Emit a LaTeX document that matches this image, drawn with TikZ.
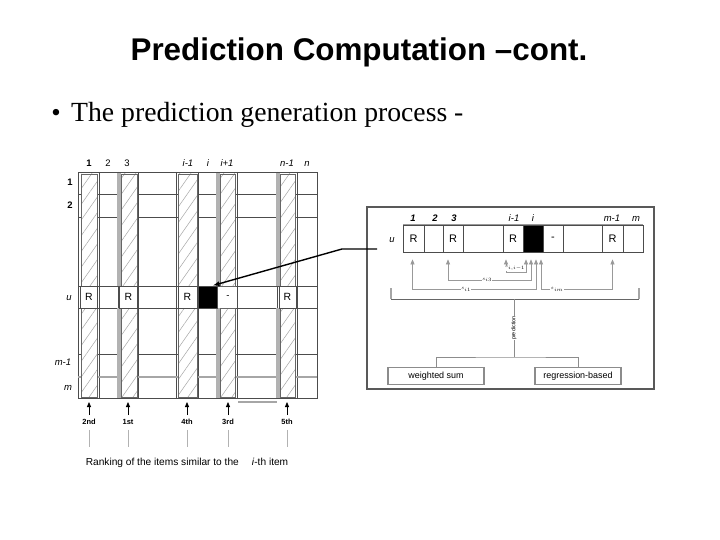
\documentclass[tikz,border=0pt]{standalone}
\usepackage{fontspec}
\setmainfont{Liberation Serif}
\setsansfont{Liberation Sans}
\usetikzlibrary{arrows.meta,positioning,calc,patterns.meta}

\tikzset{
  gridline/.style={draw=black!70,line width=0.9bp},
  hatchcol/.style={draw=black!60,line width=0.8bp,preaction={fill=white},
    pattern={Lines[angle=55,distance=9bp,line width=0.5bp]},pattern color=black!35},
  strip/.style={fill=black!30},
  lcell/.style={draw=black!70,line width=0.8bp,fill=white,minimum height=22bp,
    inner sep=0pt,font=\sffamily\fontsize{10.5}{12}\selectfont},
  rcell/.style={draw=black!70,line width=0.8bp,fill=white,minimum height=27bp,
    minimum width=20bp,inner sep=0pt,font=\sffamily\fontsize{11}{12}\selectfont},
  idx/.style={font=\sffamily\fontsize{9.5}{11}\selectfont,inner sep=1pt,
    text height=7bp,text depth=0pt},
  simlbl/.style={font=\sffamily\fontsize{5}{6}\selectfont,inner sep=0.5pt,fill=white},
  simline/.style={draw=black!40,line width=0.6bp},
  methodbox/.style={draw=black!45,line width=1.2bp,minimum height=17bp,inner sep=1pt,
    font=\sffamily\fontsize{9}{11}\selectfont},
  rank/.style={font=\sffamily\bfseries\fontsize{7.5}{8}\selectfont,inner sep=1pt}
}

\begin{document}
\begin{tikzpicture}[x=1bp,y=-1bp,>={Triangle[length=5bp,width=4bp]}]
  \useasboundingbox[fill=white] (0,0) rectangle (720,540);

  % title and bullet
  \node[font=\sffamily\bfseries\fontsize{31.5}{36}\selectfont] (title) at (359,52)
      {Prediction Computation --cont.};
  \node[font=\fontsize{27}{30}\selectfont] (bullet) at (56,115) {\textbullet};
  \node[font=\fontsize{27.8}{30}\selectfont,anchor=west,inner sep=0pt] (subtitle) at (71,115)
      {The prediction generation process -};

  % user-item matrix
  \draw[gridline] (78,172) rectangle (317,398);
  \foreach \x in {99,118,138,176,198,217,237,277,297}
    \draw[gridline] (\x,172) -- (\x,398);
  \foreach \y in {194,217,286,308,354}
    \draw[gridline] (78,\y) -- (317,\y);
  \draw[black!35,line width=1.4bp] (78,377) -- (317,377);
  \draw[black!35,line width=1.4bp] (238,402) -- (277,402);

  \foreach \a/\b in {81/97,121/137,178/197,220/235,280/295} {
    \draw[hatchcol] (\a,174) rectangle (\b,286);
    \draw[hatchcol] (\a,308) rectangle (\b,397);
  }
  \foreach \a in {117,216,276} {
    \fill[strip] (\a,173) rectangle (\a+4,286);
    \fill[strip] (\a,308) rectangle (\a+4,398);
  }

  \node[lcell,minimum width=17bp] (lr1) at (89,297) {R};
  \node[lcell,minimum width=18bp] (lr3) at (128.5,297) {R};
  \node[lcell,minimum width=19bp] (lri1) at (187.5,297) {R};
  \node[lcell,minimum width=17bp] (lrn1) at (287.5,297) {R};
  \node[lcell,minimum width=19bp,fill=black] (lblack) at (207.5,297) {};
  \node[idx] (ldash) at (228,295) {-};

  \node[idx,font=\sffamily\bfseries\fontsize{9.5}{11}\selectfont] (c1) at (89,163) {1};
  \node[idx] (c2) at (108,163) {2};
  \node[idx] (c3) at (127,163) {3};
  \node[idx] (ci1) at (188,163) {\itshape i-1};
  \node[idx] (ci) at (208,163) {\itshape i};
  \node[idx] (cip) at (227,163) {\itshape i+1};
  \node[idx] (cn1) at (287,163) {\itshape n-1};
  \node[idx] (cn) at (307,163) {\itshape n};

  \node[idx,font=\sffamily\bfseries\fontsize{9.5}{11}\selectfont] (u1) at (70,182) {1};
  \node[idx,font=\sffamily\bfseries\fontsize{9.5}{11}\selectfont] (u2) at (70,205) {2};
  \node[idx] (uu) at (69,297) {\itshape u};
  \node[idx] (um1) at (63,362) {\itshape m-1};
  \node[idx] (um) at (68,387) {\itshape m};

  % ranking of the similar items
  \node[rank] (rk2) at (89,422) {2nd};
  \node[rank] (rk1) at (128,422) {1st};
  \node[rank] (rk4) at (187,422) {4th};
  \node[rank] (rk3) at (228,422) {3rd};
  \node[rank] (rk5) at (287,422) {5th};
  \foreach \r/\x in {rk2/89,rk1/128,rk4/187,rk3/228,rk5/287} {
    \draw[->,line width=0.8bp] (\r.north) ++(0,-3) -- (\x,402);
    \draw[black!30,line width=0.6bp] (\r.south) ++(0,4) -- (\x,447);
  }
  \node[font=\sffamily\fontsize{10.2}{12}\selectfont,inner sep=1pt] (ranking) at (187,463)
      {Ranking of the items similar to the \quad\textit{i}-th item};

  % prediction for the active user
  \draw[black!65,line width=1.2bp] (367,207) rectangle (654,389);
  \draw[black!40,line width=1.4bp] (403,225) -- (643,225);
  \draw[black!70,line width=0.8bp] (403,225) rectangle (643,252);
  \node[rcell,minimum width=21bp] (r1) at (413.5,238.5) {R};
  \node[rcell] (r3) at (453,238.5) {R};
  \node[rcell] (ri1) at (513,238.5) {R};
  \node[rcell,fill=black] (ri) at (533,238.5) {};
  \node[rcell] (rip) at (553,238.5) {-};
  \node[rcell,minimum width=21bp] (rm1) at (612.5,238.5) {R};
  \draw[black!70,line width=0.8bp] (424,225) -- (424,252);

  \node[idx,font=\sffamily\bfseries\itshape\fontsize{9.5}{11}\selectfont] (t1) at (413,218) {1};
  \node[idx,font=\sffamily\bfseries\itshape\fontsize{9.5}{11}\selectfont] (t2) at (435,218) {2};
  \node[idx,font=\sffamily\bfseries\itshape\fontsize{9.5}{11}\selectfont] (t3) at (454,218) {3};
  \node[idx] (ti1) at (514,218) {\itshape i-1};
  \node[idx] (ti) at (533,218) {\itshape i};
  \node[idx] (tm1) at (612,218) {\itshape m-1};
  \node[idx] (tm) at (636,218) {\itshape m};
  \node[idx] (tu) at (392,239) {\itshape u};

  % similarities between item i and the rated items
  \coordinate (q1) at ($(ri.south)+(-7,7)$);
  \coordinate (q2) at ($(ri.south)+(-2,7)$);
  \coordinate (q3) at ($(ri.south)+(3,7)$);
  \coordinate (q4) at ($(ri.south)+(8,7)$);
  \draw[simline,<->] ($(ri1.south)+(-7,7)$) -- ++(0,13) -| (q1);
  \draw[simline,<->] ($(r3.south)+(-5,7)$) |- (q2 |- 0,280) -- (q2);
  \draw[simline,<->] ($(r1.south)+(-1,7)$) |- (q3 |- 0,289) -- (q3);
  \draw[simline,<->] ($(rm1.south)+(0,7)$) |- (q4 |- 0,289) -- (q4);
  \node[simlbl] (sii1) at (515,268) {$s_{i,i-1}$};
  \node[simlbl] (si3) at (487,280) {$s_{i3}$};
  \node[simlbl] (si1) at (466,289.5) {$s_{i1}$};
  \node[simlbl] (sim) at (557,289.5) {$s_{im}$};

  \draw[black!60,line width=0.9bp] (391,299) -- (639,299);
  \draw[black!35,line width=1.6bp] (391,288) -- (391,299);
  \draw[black!35,line width=1.6bp] (639,288) -- (639,299);
  \coordinate (fork) at (514,357);
  \draw[black!45,line width=0.6bp] (514,299) -- (fork);
  \node[simlbl,font=\sffamily\fontsize{5.5}{6}\selectfont,rotate=90] (pred) at (514,328) {prediction};

  \node[methodbox,minimum width=96bp] (wsum) at (436,376) {weighted sum};
  \node[methodbox,minimum width=86bp] (regr) at (578,376) {regression-based};
  \draw[black!45,line width=0.6bp] (wsum.north) |- (fork) -| (regr.north);

  % link from the panel to the unknown cell
  \coordinate (tail) at (377,249);
  \draw[line width=1.4bp,-{Latex[length=7bp,width=5bp]}] (tail) -- (342,249)
      -- ([xshift=5bp]lblack.north);
\end{tikzpicture}
\end{document}
